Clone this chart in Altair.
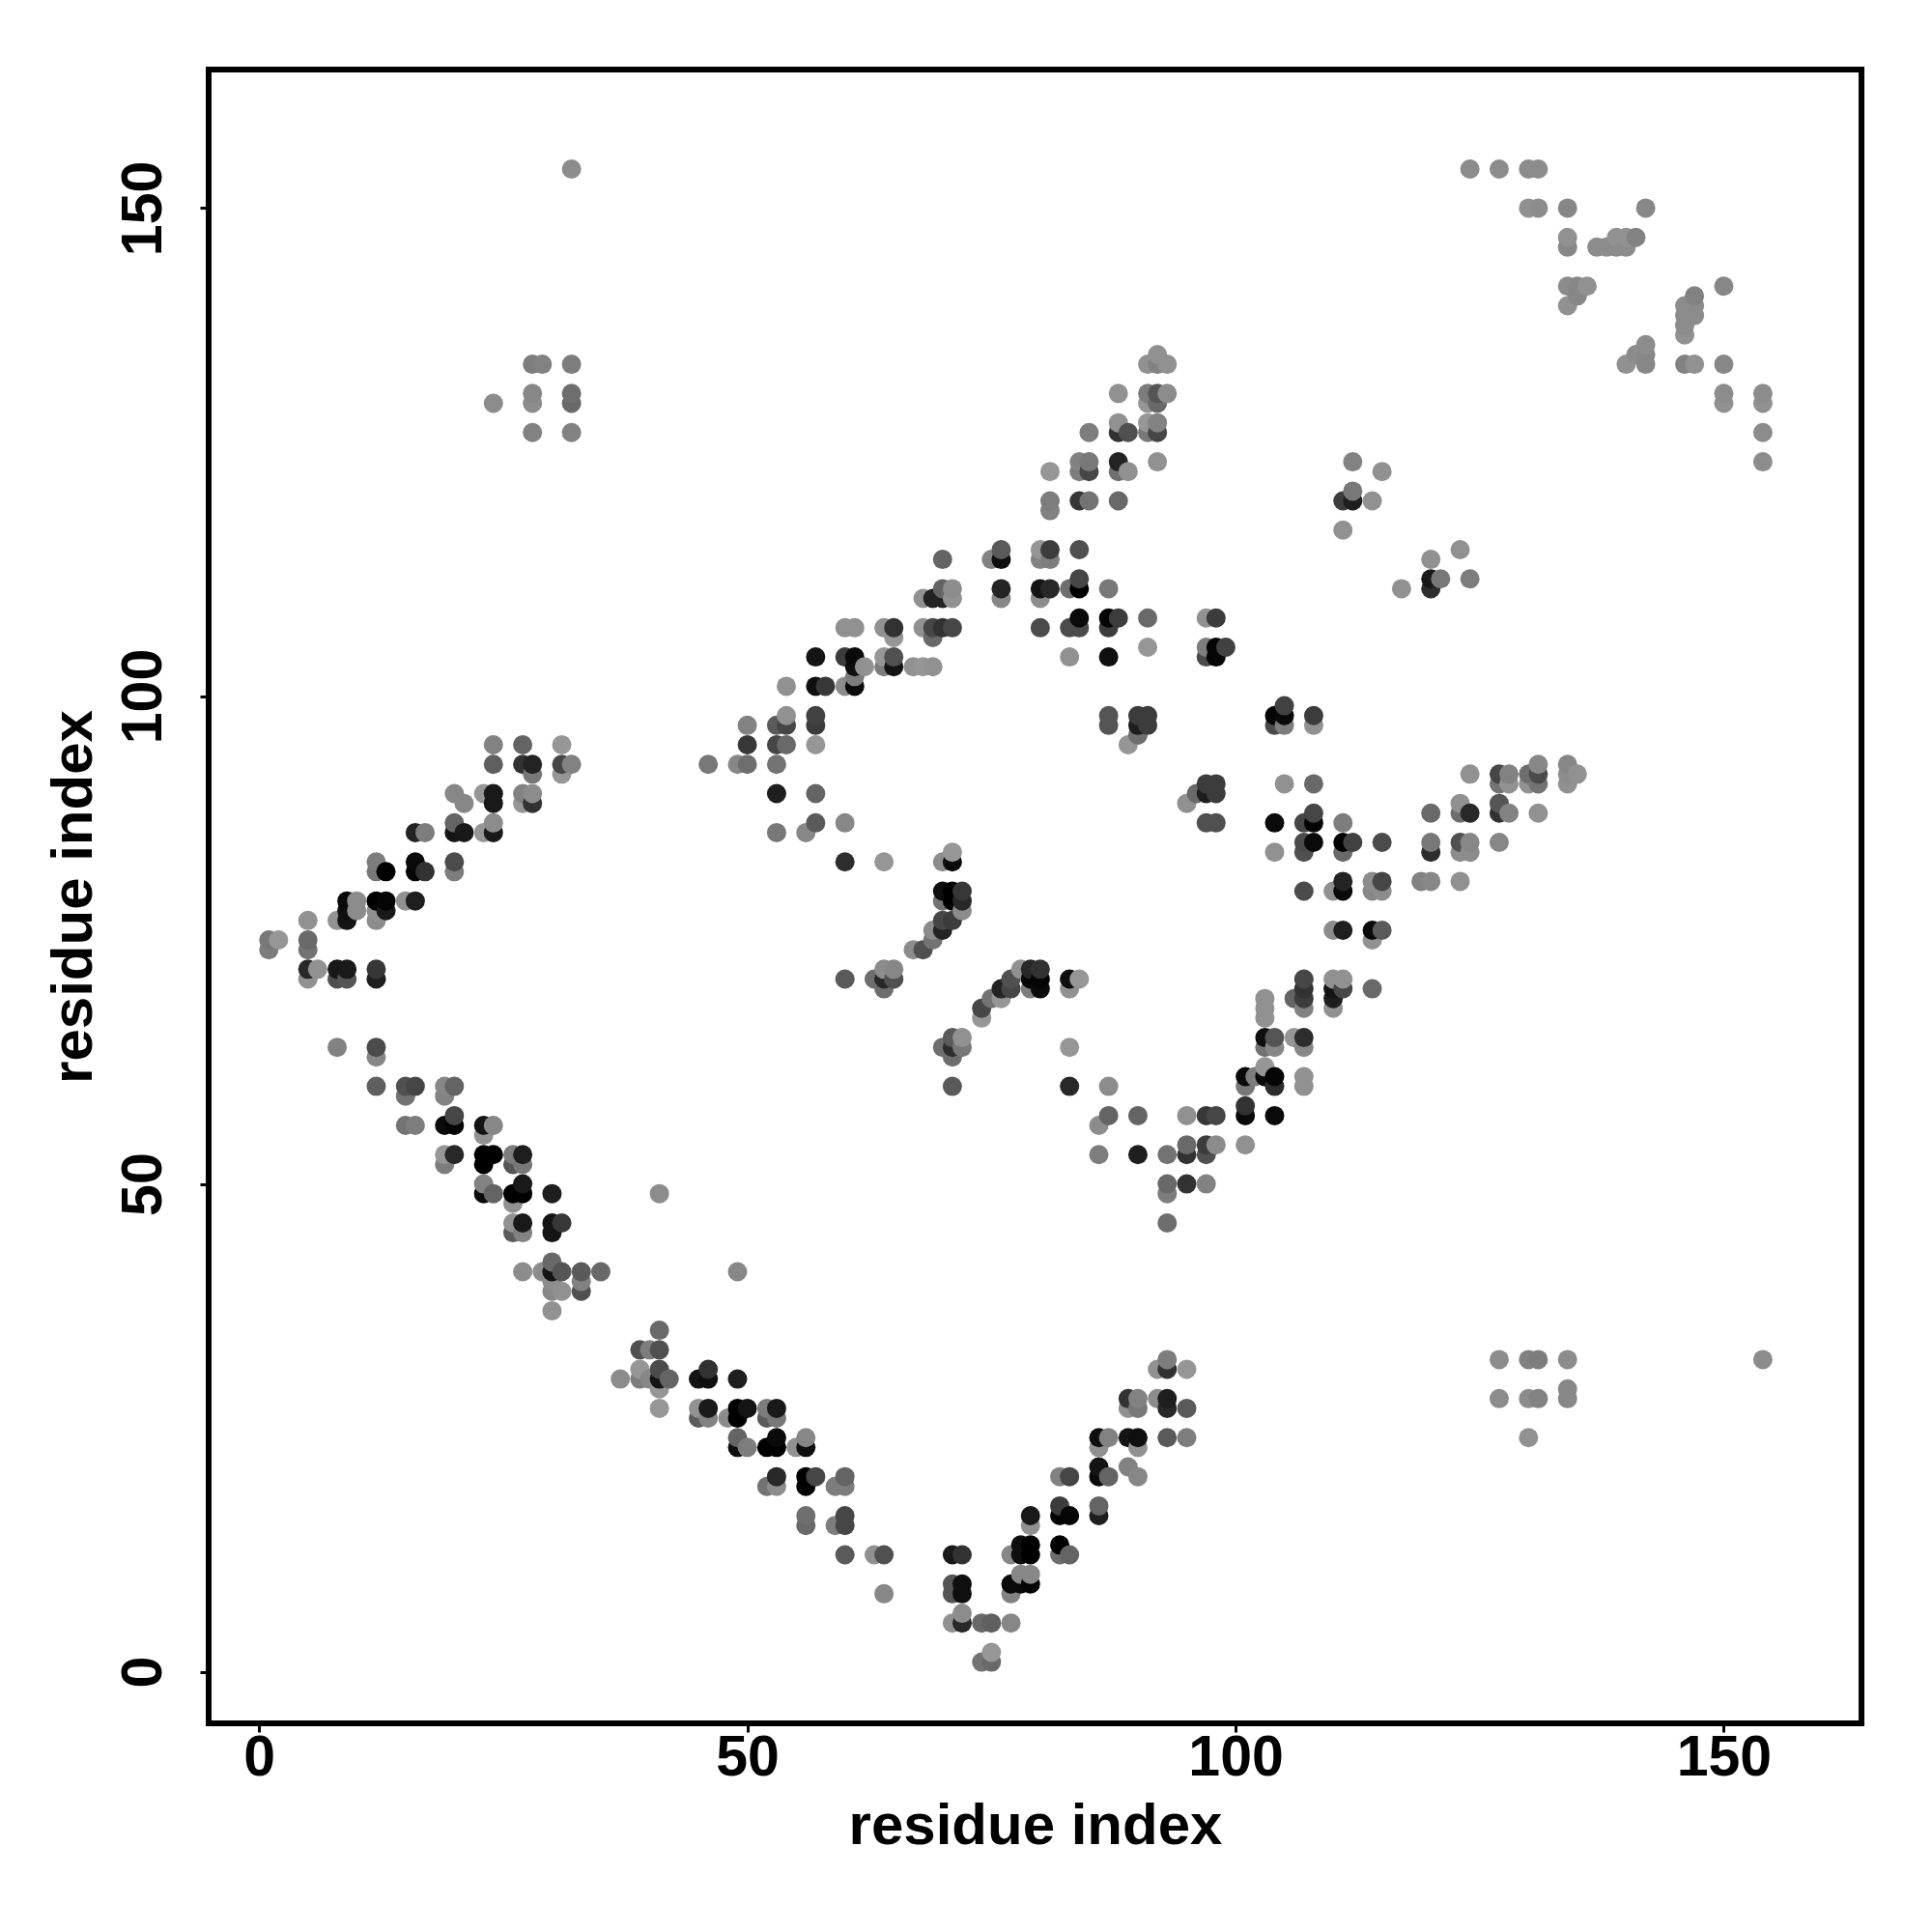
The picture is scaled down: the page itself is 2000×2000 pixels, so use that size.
import altair as alt
import pandas as pd

# Contact rows: one residue index per row,
# with the partner indices and the grey level of each dot in that row.
row_y = [154, 150, 147, 146, 142, 141, 140, 139, 138, 137, 136, 135, 134, 131, 130, 128, 127, 124, 123, 121,
         120, 119, 117, 115, 114, 112, 111, 110, 108, 107, 106, 105, 104, 103, 102, 101, 99, 98, 97, 96,
         95, 93, 92, 91, 90, 89, 88, 87, 86, 85, 84, 83, 82, 81, 80, 79, 78, 77, 76, 75,
         74, 72, 71, 70, 69, 68, 67, 65, 64, 63, 62, 61, 60, 59, 58, 57, 56, 55, 54, 53,
         52, 50, 49, 48, 46, 45, 42, 41, 40, 39, 37, 35, 33, 32, 31, 30, 29, 28, 27, 26,
         24, 23, 21, 20, 19, 17, 16, 15, 13, 12, 10, 9, 8, 6, 5, 2, 1]

row_x = [
    [32, 124, 127, 130, 131], [130, 131, 134, 142], [134, 139, 140, 141], [134, 137, 138, 139, 140],
    [134, 135, 136, 150], [135, 147], [134, 146, 147], [146, 147], [146], [146], [142], [92, 141, 142],
    [28, 29, 32, 91, 92, 93, 140, 142, 146, 147, 150], [28, 32, 88, 91, 92, 93, 150, 154],
    [24, 28, 32, 91, 92, 150, 154], [88, 91, 92], [28, 32, 85, 88, 89, 91, 92, 154],
    [84, 85, 88, 92, 112, 154], [81, 84, 85, 88, 89, 115], [112],
    [81, 84, 85, 88, 111, 112, 114], [81], [111], [76, 80, 81, 84, 123], [70, 75, 76, 80, 81, 120],
    [84, 120, 121, 124], [70, 71, 76, 80, 81, 83, 84, 87, 117, 120], [68, 69, 70, 71, 76, 80],
    [84, 87, 88, 91, 97, 98], [60, 61, 64, 65, 68, 69, 70, 71, 80, 83, 84, 87], [65, 69], [91, 97, 98, 99],
    [57, 60, 61, 64, 65, 83, 87, 97, 98], [61, 62, 64, 65, 67, 68, 69], [61], [54, 57, 58, 60, 61], [105],
    [54, 57, 87, 90, 91, 104, 105, 108], [50, 53, 54, 57, 87, 90, 91, 104, 105, 108], [90],
    [24, 27, 31, 50, 53, 54, 57, 89], [24, 27, 28, 31, 32, 46, 49, 50, 53, 131, 134],
    [28, 31, 124, 127, 128, 130, 131, 134, 135], [97, 98, 105, 108, 127, 128, 130, 131, 134],
    [20, 23, 24, 27, 28, 53, 57, 96, 97, 98], [21, 24, 27, 28, 95, 123, 127],
    [108, 120, 123, 124, 127, 128, 131], [20, 24, 57, 60, 97, 98, 104, 107, 108, 111],
    [16, 17, 20, 21, 23, 24, 53, 56], [107, 108, 111, 112, 115, 120, 123, 124, 127],
    [71, 104, 107, 111, 120, 123, 124], [12, 16, 20, 60, 64, 70, 71], [12, 13, 16, 17, 20],
    [111, 114, 115, 119, 120, 123], [70, 71, 72, 107, 110, 111, 114, 115],
    [9, 10, 12, 13, 15, 16, 70, 71, 72], [9, 10, 12, 13, 72], [5, 8, 9, 12, 70, 71],
    [69, 70, 110, 111, 114, 115], [1, 2, 5, 69, 114],
    [1, 5, 67, 68], [5, 6, 8, 9, 12, 64, 65, 78, 79, 80],
    [5, 8, 9, 12, 60, 63, 64, 65, 77, 79, 80, 83, 84, 107, 110, 111],
    [64, 76, 77, 79, 80, 83, 107, 110, 111, 114], [75, 76, 103, 106, 107, 110], [74, 103, 107, 110], [74, 103],
    [71, 72, 103, 104, 106, 107], [8, 12, 70, 71, 72, 83, 103, 104, 107], [12, 71], [103],
    [101, 102, 103, 104, 107], [12, 15, 16, 19, 20, 71, 83, 87, 101, 104, 107], [15, 19], [101],
    [20, 87, 90, 95, 97, 98, 101, 104], [15, 16, 19, 20, 23, 24, 86], [23], [95, 97, 98, 101],
    [19, 20, 23, 24, 26, 27, 86, 90, 93, 95, 97],
    [19, 23, 26, 27], [23, 27, 93, 95, 97], [23, 24, 26, 27, 30, 41, 93], [26], [26, 27, 30, 31, 93],
    [26, 27, 30], [30], [27, 29, 30, 31, 33, 35, 49], [30, 33], [30, 31, 33], [30], [41], [39, 40, 41],
    [93, 127, 130, 131, 134, 154], [39, 41, 46, 92, 93, 95], [37, 39, 40, 41, 42, 45, 46, 49], [41, 134],
    [89, 90, 92, 93, 127, 130, 131, 134], [41, 45, 46, 49, 50, 52, 53, 89, 90, 93, 95],
    [45, 46, 48, 49, 52, 53],
    [49, 53, 56, 86, 87, 89, 90, 93, 95, 130], [49, 50, 52, 53, 55, 56, 86, 90], [86, 89],
    [53, 56, 57, 60, 82, 83, 86, 87, 90], [52, 53, 56, 59, 60], [82, 86], [56, 60, 79, 82, 83, 86],
    [56, 59, 60, 79], [78, 79, 82], [60, 63, 64, 71, 72, 77, 78, 79, 82, 83], [78, 79],
    [71, 72, 77, 78, 79], [64, 71, 72, 77], [72], [71, 72, 74, 75, 77], [75], [74, 75],
]

row_grey = [
    [140, 140, 140, 140, 140], [145, 140, 135, 135], [145, 145, 145, 130], [135, 140, 140, 140, 140],
    [140, 135, 145, 135], [135, 130], [145, 140, 140], [140, 140], [140], [145], [140], [145, 140, 135],
    [125, 130, 125, 145, 130, 145, 145, 135, 130, 145, 135], [135, 110, 145, 125, 85, 140, 140, 140],
    [140, 140, 105, 150, 105, 145, 145], [145, 150, 130], [130, 130, 125, 50, 80, 120, 70, 140],
    [130, 120, 35, 145, 130, 140], [150, 125, 70, 110, 145, 145], [120],
    [125, 55, 115, 105, 60, 30, 145], [130], [145], [90, 150, 60, 80, 145], [100, 130, 15, 130, 125, 145],
    [70, 25, 120, 125], [100, 140, 35, 20, 40, 110, 0, 120, 145, 45], [145, 35, 35, 145, 135, 140],
    [10, 5, 60, 105, 145, 60], [145, 145, 145, 50, 145, 70, 50, 70, 75, 75, 75, 60], [150, 105], [150, 125, 5, 65],
    [20, 60, 10, 150, 80, 145, 15, 75, 5], [15, 145, 125, 20, 145, 150, 145], [125], [145, 15, 55, 140, 10], [65],
    [145, 65, 85, 60, 60, 5, 10, 60], [130, 90, 70, 60, 85, 30, 60, 75, 125, 145], [110],
    [130, 100, 150, 55, 70, 105, 150, 150], [95, 50, 35, 70, 130, 120, 135, 110, 115, 135, 135],
    [120, 150, 145, 70, 130, 110, 75, 140, 145], [60, 60, 145, 105, 115, 145, 145, 115, 145],
    [135, 150, 25, 130, 140, 30, 100, 105, 30, 60], [135, 25, 150, 50, 145, 145, 85],
    [70, 105, 110, 40, 50, 130, 145], [100, 140, 90, 135, 80, 80, 10, 70, 5, 125],
    [35, 125, 20, 25, 150, 25, 120, 135], [75, 10, 0, 65, 75, 120, 80, 135, 135],
    [150, 145, 80, 105, 45, 140, 140], [125, 10, 75, 45, 150, 140, 10], [120, 0, 5, 50, 125],
    [35, 140, 70, 130, 135, 145], [15, 0, 55, 75, 145, 10, 135, 140],
    [10, 140, 0, 5, 145, 30, 115, 0, 40], [15, 140, 145, 25, 140], [145, 145, 20, 140, 70, 60],
    [140, 35, 140, 30, 10, 90], [120, 150, 105, 115, 145],
    [125, 115, 140, 80], [40, 145, 25, 25, 55, 140, 135, 145, 40, 50],
    [145, 80, 85, 30, 90, 110, 40, 80, 80, 5, 5, 15, 150, 70, 145, 145],
    [110, 35, 70, 125, 10, 145, 50, 20, 70, 105], [115, 150, 145, 100, 60, 30], [70, 145, 130, 145], [150, 145],
    [90, 145, 15, 85, 150, 45], [130, 75, 110, 45, 120, 150, 115, 135, 135], [135, 110], [150],
    [10, 125, 10, 5, 145], [95, 80, 70, 135, 100, 90, 40, 140, 120, 45, 145], [115, 130], [50],
    [70, 100, 100, 145, 55, 70, 10, 10], [115, 125, 10, 5, 20, 135, 140], [145], [105, 60, 140, 145],
    [150, 40, 0, 0, 125, 30, 125, 30, 115, 50, 80],
    [125, 0, 85, 120], [130, 25, 105, 50, 130], [10, 100, 0, 0, 30, 140, 125], [145], [145, 25, 20, 55, 110],
    [90, 130, 20], [105], [140, 140, 20, 85, 90, 105, 135], [140, 130], [135, 145, 80], [145], [105], [80, 125, 80],
    [125, 140, 130, 125, 140, 140], [150, 75, 50, 145, 50, 150], [140, 125, 135, 20, 100, 20, 15, 30], [150, 135],
    [50, 130, 140, 30, 140, 140, 130, 135], [150, 145, 25, 0, 20, 125, 25, 145, 120, 40, 90],
    [90, 130, 140, 0, 90, 120],
    [100, 10, 135, 15, 130, 20, 15, 90, 125, 145], [15, 125, 0, 0, 145, 15, 145, 145], [20, 130],
    [40, 0, 70, 100, 130, 70, 10, 100, 135], [115, 140, 5, 125, 125], [60, 100], [110, 70, 25, 5, 5, 30],
    [105, 125, 70, 145], [15, 0, 0], [90, 145, 80, 25, 50, 135, 15, 0, 110, 100], [135, 135],
    [85, 15, 10, 10, 5], [135, 85, 15, 130], [140], [145, 40, 105, 95, 135], [150], [115, 105],
]

x_ticks = [0, 50, 100, 150]
y_ticks = [0, 50, 100, 150]
x_limits = [-5.16, 164.1]
y_limits = [-5.28, 164.2]
axis_title = "residue index"

records = []
for y, xs, greys in zip(row_y, row_x, row_grey):
    for x, g in zip(xs, greys):
        records.append({"x": x, "y": y, "shade": f"#{g:02x}{g:02x}{g:02x}"})
df = pd.DataFrame(records).sort_values(["x", "y"]).reset_index(drop=True)

FONT = "Liberation Sans"
LABEL_FS = 59
TITLE_FS = 60

chart = (
    alt.Chart(df)
    .mark_circle(size=400, opacity=1)
    .encode(
        x=alt.X(
            "x:Q",
            scale=alt.Scale(domain=x_limits, nice=False, zero=False),
            axis=alt.Axis(
                values=x_ticks, title=axis_title, grid=False, domain=False,
                tickColor="black", tickWidth=3, tickSize=9,
                labelFont=FONT, labelFontWeight="bold", labelFontSize=LABEL_FS, labelColor="black",
                labelPadding=-3, labelFlush=False, labelOverlap=False,
                titleFont=FONT, titleFontWeight="bold", titleFontSize=TITLE_FS, titleColor="black",
                titlePadding=12,
            ),
        ),
        y=alt.Y(
            "y:Q",
            scale=alt.Scale(domain=y_limits, nice=False, zero=False),
            axis=alt.Axis(
                values=y_ticks, title=axis_title, grid=False, domain=False,
                tickColor="black", tickWidth=3, tickSize=9,
                labelFont=FONT, labelFontWeight="bold", labelFontSize=LABEL_FS, labelColor="black",
                labelAngle=270, labelAlign="center", labelBaseline="bottom",
                labelPadding=29, labelFlush=False, labelOverlap=False,
                titleFont=FONT, titleFontWeight="bold", titleFontSize=TITLE_FS, titleColor="black",
                titlePadding=12,
            ),
        ),
        color=alt.Color("shade:N", scale=None, legend=None),
    )
    .properties(
        width=1711, height=1712,
        padding={"left": 208, "top": 64, "right": 50, "bottom": 150},
        autosize=alt.AutoSizeParams(type="none"),
        background="white",
    )
    .configure_view(stroke="black", strokeWidth=6)
)

chart.save("out.html", embed_options={"renderer": "svg", "actions": False})
